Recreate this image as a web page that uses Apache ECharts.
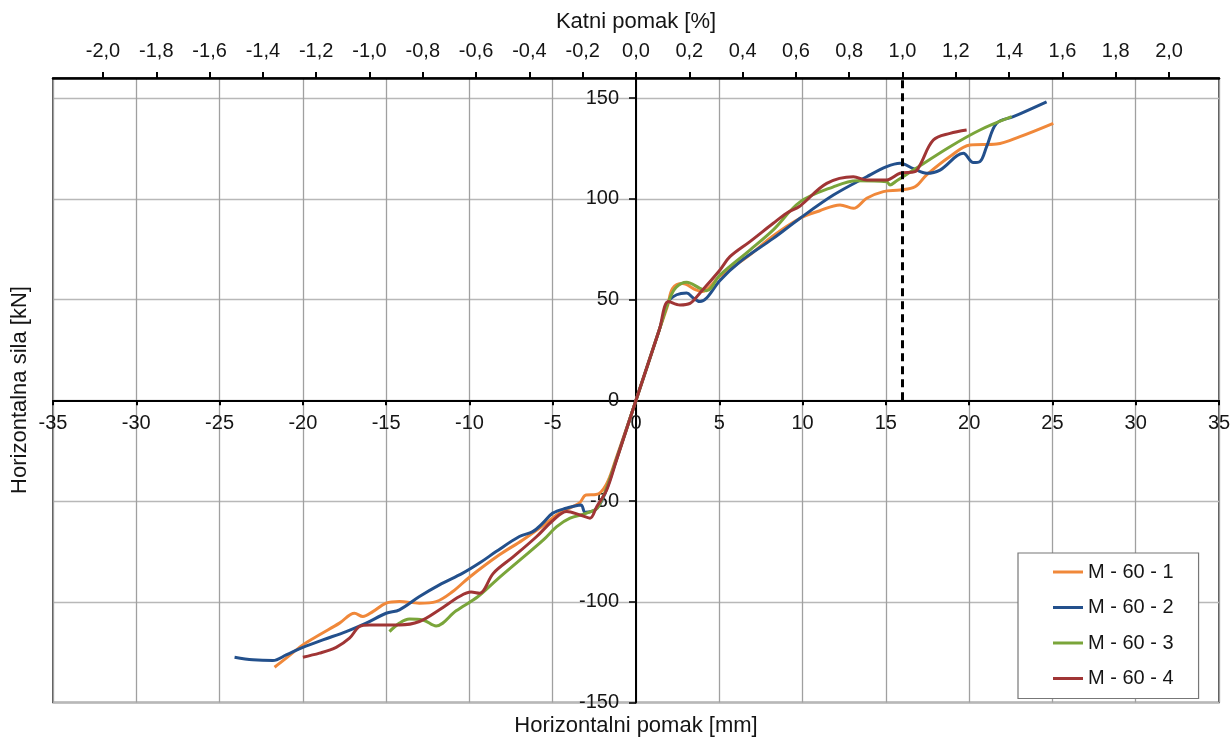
<!DOCTYPE html>
<html><head><meta charset="utf-8">
<script src="https://cdn.jsdelivr.net/npm/echarts@6/dist/echarts.min.js"></script>
<style>html,body{margin:0;padding:0;background:#fff}#c{width:1230px;height:741px}</style>
</head><body><div id="c"></div>
<script>
// ---------- data ----------
const seriesNames = ['M - 60 - 1', 'M - 60 - 2', 'M - 60 - 3', 'M - 60 - 4'];
// [horizontal displacement mm, horizontal force kN]
const m601 = [[-21.7,-132.5],[-21.0,-128],[-20.0,-121.4],[-19.0,-116.4],[-17.8,-110.6],[-16.9,-105.7],[-16.4,-107.3],[-15.8,-104.9],[-15.0,-100.7],[-14.2,-99.9],[-13.0,-100.7],[-12.0,-99.9],[-11.0,-94.9],[-10.0,-87.8],[-8.2,-76.7],[-6.8,-69.3],[-5.4,-61],[-4.6,-56],[-3.4,-51],[-3.0,-47],[-2.4,-46.8],[-1.8,-42],[-1.2,-29],[0,0],
  [1.4,35],[1.9,47],[2.2,55.6],[2.8,58],[3.6,54.8],[4.0,54],[5.0,61.4],[6.8,72],[8.2,81.5],[9.85,90.4],[11.0,94],[12.25,97],[13.05,95.3],[13.85,100.3],[14.85,103.6],[15.85,104.4],[16.75,106],[17.45,111.9],[18.85,121],[20.05,126.7],[21.65,127.2],[23.05,130.9],[25.05,137.5]];
const m602 = [[-24.1,-127.5],[-23.0,-128.8],[-21.8,-129.2],[-21.0,-126.4],[-20.0,-122.6],[-18.8,-118.9],[-17.4,-114.8],[-16.2,-110.6],[-15.0,-105.7],[-14.2,-104],[-13.0,-97.4],[-11.8,-91.6],[-10.4,-85.8],[-9.4,-80.8],[-8.4,-75.1],[-7.0,-67.6],[-6.2,-65.2],[-5.6,-61],[-5.0,-56],[-4.2,-53.6],[-3.3,-51.9],[-3.06,-55.5],[-2.4,-54],[-1.9,-47],[-1.2,-30],[0,0],
  [1.4,35],[1.95,49],[2.44,52.4],[3.04,53.3],[3.44,50.8],[3.84,49],[4.24,50.8],[5.04,59.5],[6.24,68.8],[8.24,80.4],[9.85,90.4],[11.85,101.9],[13.85,111],[15.05,116],[15.85,117.7],[16.65,115],[17.45,112.7],[18.25,114.3],[19.65,122.6],[20.25,118],[20.65,118.5],[21.05,125.9],[21.65,137.5],[22.65,140.8],[24.65,148.2]];
const m603 = [[-14.8,-114.8],[-14.2,-110.6],[-13.6,-108.6],[-12.8,-109],[-12.0,-112],[-10.8,-104.5],[-9.5,-97.5],[-8.36,-89.1],[-6.96,-79.2],[-5.56,-69.3],[-4.76,-62.7],[-3.96,-58.5],[-2.96,-56],[-2.26,-52.8],[-1.2,-30],[0,0],
  [1.4,35],[1.95,49],[2.4,56],[3.04,58.6],[3.84,55.6],[4.24,54.4],[5.04,62.2],[6.84,74.6],[8.24,84.6],[9.85,98.5],[11.85,106],[13.25,109],[15.05,108.5],[15.25,106.9],[15.65,109],[16.65,114.3],[18.85,125.9],[20.65,134.2],[22.55,140.8]];
const m604 = [[-20.0,-127.5],[-19.0,-125.5],[-18.0,-122.6],[-17.2,-118.1],[-16.6,-112.3],[-16.0,-111.5],[-14.2,-111.5],[-13.0,-109.8],[-11.8,-104],[-10.6,-97.4],[-9.9,-95.2],[-9.4,-95.8],[-8.56,-85.8],[-7.36,-77.6],[-5.96,-67.6],[-4.96,-59.4],[-4.16,-55.2],[-3.36,-56.9],[-2.76,-58.5],[-2.36,-52.8],[-1.76,-44.5],[-1.2,-30.5],[0,0],
  [1.4,35],[1.95,49],[2.64,47.3],[3.24,48.1],[3.84,53.3],[5.04,64.7],[5.64,71.3],[6.84,78.8],[8.24,87.9],[9.04,92.9],[9.85,96.5],[11.45,107.7],[13.05,111],[13.85,109.4],[15.05,109.4],[15.85,112.7],[16.75,113.5],[17.05,116.8],[17.85,129.2],[18.85,132.5],[19.85,134.2]];
const driftTicks = [-2.0,-1.8,-1.6,-1.4,-1.2,-1.0,-0.8,-0.6,-0.4,-0.2,0.0,0.2,0.4,0.6,0.8,1.0,1.2,1.4,1.6,1.8,2.0];
const forceTicks = [-150,-100,-50,0,50,100,150];
const MM_PER_PERCENT = 16;      // 1 % storey drift = 16 mm
const driftLimitPercent = 1.0;  // dashed reference line
const X_MIN = -35, X_MAX = 35, Y_MIN = -150, Y_MAX = 160;

// ---------- chart ----------
const W = 1230, H = 741;
const G = {left: 53, right: 11, top: 78, bottom: 38.5};
const gridW = W - G.left - G.right, gridH = H - G.top - G.bottom;
// put the axes through the origin
const xAxisOffset = -gridH * (0 - Y_MIN) / (Y_MAX - Y_MIN);
const yAxisOffset = -gridW * (0 - X_MIN) / (X_MAX - X_MIN);

const FONT = "'Liberation Sans', Arial, sans-serif";
const TXT = '#151515';
const colors = ['#F0883A', '#23508C', '#7AA53A', '#A03535'];
const allData = [m601, m602, m603, m604];

const chart = echarts.init(document.getElementById('c'), null, {renderer: 'canvas'});
const series = allData.map((d, i) => ({
  name: seriesNames[i], type: 'line', data: d, xAxisIndex: 0, yAxisIndex: 0,
  symbol: 'none', smooth: 0.35, lineStyle: {width: 3, color: colors[i]}, itemStyle: {color: colors[i]}, z: 3 + i
}));
const limitX = driftLimitPercent * MM_PER_PERCENT;
series.push({
  name: 'limit', type: 'line', data: [[limitX, 0], [limitX, Y_MAX]], symbol: 'none', silent: true,
  lineStyle: {color: '#000', width: 3, type: [8, 5]}, z: 10
});

chart.setOption({
  animation: false,
  color: colors,
  grid: {left: G.left, right: G.right, top: G.top, bottom: G.bottom, outerBoundsMode: 'none', containLabel: false,
    show: true, borderColor: '#222', borderWidth: 1.5, backgroundColor: '#fff'},
  xAxis: [{
    type: 'value', min: X_MIN, max: X_MAX, interval: 5, position: 'bottom', offset: xAxisOffset,
    axisLine: {onZero: false, lineStyle: {color: '#000', width: 2}},
    axisTick: {show: true, inside: false, length: 5, lineStyle: {color: '#000', width: 2}},
    axisLabel: {fontFamily: FONT, fontSize: 20, color: TXT, margin: 13, showMinLabel: true, showMaxLabel: true},
    splitLine: {show: true, lineStyle: {color: '#a0a0a0', width: 1.3}}
  }, {
    type: 'value', position: 'top', min: X_MIN / MM_PER_PERCENT, max: X_MAX / MM_PER_PERCENT,
    axisLine: {onZero: false, lineStyle: {color: '#000', width: 2.5}},
    axisTick: {show: true, inside: false, length: 6, customValues: driftTicks, lineStyle: {color: '#000', width: 2}},
    axisLabel: {customValues: driftTicks, fontFamily: FONT, fontSize: 20, color: TXT, margin: 17,
      formatter: v => v.toFixed(1).replace('.', ',')},
    splitLine: {show: false}
  }],
  yAxis: [{
    type: 'value', min: Y_MIN, max: Y_MAX, interval: 10, position: 'left', offset: yAxisOffset,
    axisLine: {onZero: false, lineStyle: {color: '#000', width: 2}},
    axisTick: {show: true, inside: false, length: 7, customValues: forceTicks, lineStyle: {color: '#000', width: 1.5}},
    axisLabel: {customValues: forceTicks, fontFamily: FONT, fontSize: 20, color: TXT, margin: 17},
    splitLine: {show: true, lineStyle: {color: '#b8b8b8', width: 1.3}}
  }],
  legend: {
    data: seriesNames, orient: 'vertical', left: 1018, top: 553,
    padding: [9, 25, 10, 35], itemWidth: 30, itemHeight: 3, itemGap: 15.5, icon: 'rect',
    textStyle: {fontFamily: FONT, fontSize: 20, color: TXT, padding: [0, 0, 0, 0]},
    backgroundColor: '#fff', borderColor: '#777', borderWidth: 1.2
  },
  graphic: [
    {type: 'text', x: 636, y: 22, style: {text: 'Katni pomak [%]', font: '22px ' + FONT, fill: TXT, textAlign: 'center', textVerticalAlign: 'middle'}},
    {type: 'text', x: 636, y: 726, style: {text: 'Horizontalni pomak [mm]', font: '22px ' + FONT, fill: TXT, textAlign: 'center', textVerticalAlign: 'middle'}},
    {type: 'text', x: 20, y: 390, rotation: Math.PI / 2, style: {text: 'Horizontalna sila [kN]', font: '22px ' + FONT, fill: TXT, textAlign: 'center', textVerticalAlign: 'middle'}}
  ],
  series: series
});
</script></body></html>
